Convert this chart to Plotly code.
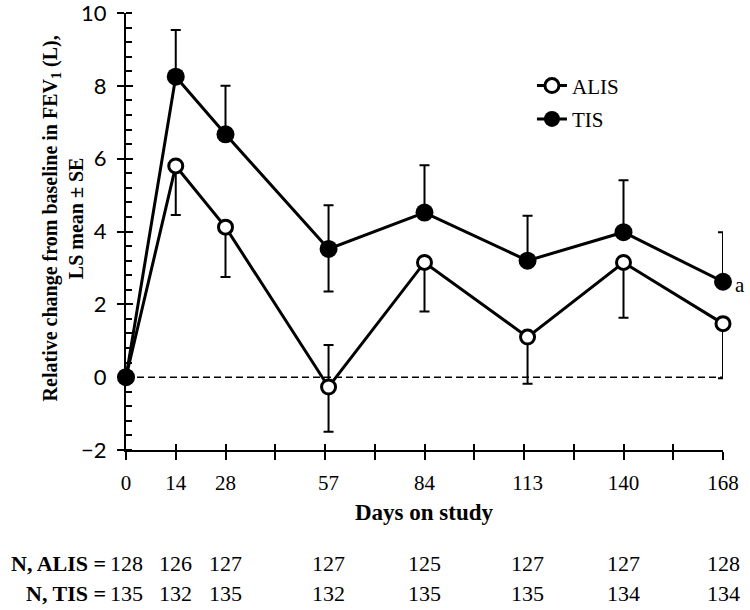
import plotly.graph_objects as go

days = [0, 14, 28, 57, 84, 113, 140, 168]
tick_days = list(range(0, 169, 14))

alis_mean = [0.0, 5.8, 4.12, -0.27, 3.15, 1.1, 3.15, 1.47]
alis_se_up = [0, 0, 0, 1.15, 0, 0, 0, 0]
alis_se_down = [0, 1.35, 1.37, 1.23, 1.35, 1.28, 1.52, 1.5]

tis_mean = [0.0, 8.25, 6.67, 3.52, 4.52, 3.2, 3.98, 2.62]
tis_se_up = [0, 1.28, 1.33, 1.2, 1.3, 1.23, 1.43, 1.36]
tis_se_down = [0, 0, 0, 1.17, 0, 0, 0, 0]

n_alis = [128, 126, 127, 127, 125, 127, 127, 128]
n_tis = [135, 132, 135, 132, 135, 135, 134, 134]

SERIF = "Liberation Serif, Times New Roman, serif"
SANS = "Lato, Liberation Sans, sans-serif"

fig = go.Figure()

fig.add_trace(go.Scatter(
    x=days, y=alis_mean, mode="lines+markers", name="ALIS",
    legendgroup="a",
    line=dict(color="black", width=3),
    marker=dict(symbol="circle", size=14, color="white", line=dict(color="black", width=3)),
    error_y=dict(type="data", symmetric=False, array=alis_se_up, arrayminus=alis_se_down,
                 color="black", thickness=2, width=5),
    cliponaxis=False,
))
fig.add_trace(go.Scatter(
    x=days, y=tis_mean, mode="lines+markers", name="TIS",
    legendgroup="b",
    line=dict(color="black", width=3),
    marker=dict(symbol="circle", size=18, color="black", line=dict(color="black", width=0)),
    error_y=dict(type="data", symmetric=False, array=tis_se_up, arrayminus=tis_se_down,
                 color="black", thickness=2, width=5),
    cliponaxis=False,
))
# invisible helper traces to carry the overlay axes
fig.add_trace(go.Scatter(x=days, y=tis_mean, xaxis="x2", yaxis="y2", mode="markers",
                         marker=dict(opacity=0), showlegend=False, hoverinfo="skip"))
fig.add_trace(go.Scatter(x=days, y=tis_mean, xaxis="x3", yaxis="y", mode="markers",
                         marker=dict(opacity=0), showlegend=False, hoverinfo="skip"))

# dashed zero reference line
fig.add_shape(type="line", xref="x", yref="y", x0=days[0], x1=days[-1], y0=0, y1=0,
              line=dict(color="black", width=1.5, dash="7px,4px"), layer="below")

# "a" annotation next to last TIS point
fig.add_annotation(x=days[-1], y=tis_mean[-1], xref="x", yref="y", text="a",
                   showarrow=False, xanchor="left", xshift=10, yshift=-3,
                   font=dict(family=SERIF, size=21, color="black"))

# N table
for row_label, vals, yshift in [("N, ALIS =", n_alis, -113), ("N, TIS =", n_tis, -143)]:
    fig.add_annotation(x=0, y=0, xref="paper", yref="paper", text="<b>%s</b>" % row_label,
                       showarrow=False, xanchor="right", yanchor="middle",
                       xshift=-18, yshift=yshift,
                       font=dict(family=SERIF, size=22, color="black"))
    for d, v in zip(days, vals):
        fig.add_annotation(x=d, y=0, xref="x", yref="paper", text=str(v),
                           showarrow=False, xanchor="center", yanchor="middle",
                           yshift=yshift, font=dict(family=SERIF, size=22, color="black"))

# x title
fig.add_annotation(x=0.5, y=0, xref="paper", yref="paper", text="<b>Days on study</b>",
                   showarrow=False, xanchor="center", yanchor="middle", yshift=-62,
                   font=dict(family=SERIF, size=23, color="black"))
# y title
fig.add_annotation(x=0, y=0.53, xref="paper", yref="paper",
                   text="<b>Relative change from baseline in FEV<sub>1</sub> (L),<br>LS mean ± SE</b>",
                   showarrow=False, textangle=-90, xanchor="center", yanchor="middle",
                   xshift=-63, font=dict(family=SERIF, size=20, color="black"))

xr = [0, 168]
yr = [-2, 10]
fig.update_layout(
    width=750, height=610,
    margin=dict(l=126, r=27, t=13, b=160, autoexpand=False),
    paper_bgcolor="white", plot_bgcolor="white",
    showlegend=True,
    legend=dict(x=0.68, y=0.88, xanchor="left", yanchor="top",
                font=dict(family=SERIF, size=21, color="black"),
                bgcolor="rgba(0,0,0,0)", tracegroupgap=3, traceorder="grouped"),
    xaxis=dict(range=xr, tickmode="array", tickvals=tick_days, showticklabels=False,
               ticks="outside", ticklen=8, tickwidth=2, tickcolor="black", automargin=False,
               showline=True, linecolor="black", linewidth=2, showgrid=False, zeroline=False,
               fixedrange=True),
    xaxis3=dict(range=xr, overlaying="x", anchor="y", side="bottom", tickmode="array",
                tickvals=tick_days, showticklabels=False, ticks="inside", ticklen=6,
                automargin=False,
                tickwidth=2, tickcolor="black", showline=False, showgrid=False, zeroline=False),
    xaxis2=dict(range=xr, overlaying="x", anchor="y2", side="bottom", tickmode="array",
                tickvals=days, ticktext=[str(d) for d in days], ticks="", showline=False,
                automargin=False, ticklabeloverflow="allow",
                showgrid=False, zeroline=False, ticklabelstandoff=18,
                tickfont=dict(family=SERIF, size=21, color="black")),
    yaxis=dict(range=yr, tickmode="linear", tick0=0, dtick=2, ticks="outside", ticklen=7,
               tickwidth=2, tickcolor="black", showline=True, linecolor="black", linewidth=2,
               showgrid=False, zeroline=False, ticklabelstandoff=6, automargin=False,
               ticklabeloverflow="allow",
               tickfont=dict(family=SANS, size=22, color="black"),
               minor=dict(ticks="inside", dtick=0.4, tick0=0, ticklen=6, tickwidth=1.5,
                          tickcolor="black", showgrid=False)),
    yaxis2=dict(range=yr, overlaying="y", anchor="x", side="left", tickmode="linear",
                tick0=0, dtick=2, ticks="inside", ticklen=7, tickwidth=2, tickcolor="black",
                automargin=False,
                showticklabels=False, showline=False, showgrid=False, zeroline=False),
)

fig.write_html("out.html", config={"displayModeBar": False},
               post_script="document.body.style.margin='0';document.body.style.overflow='hidden';")
